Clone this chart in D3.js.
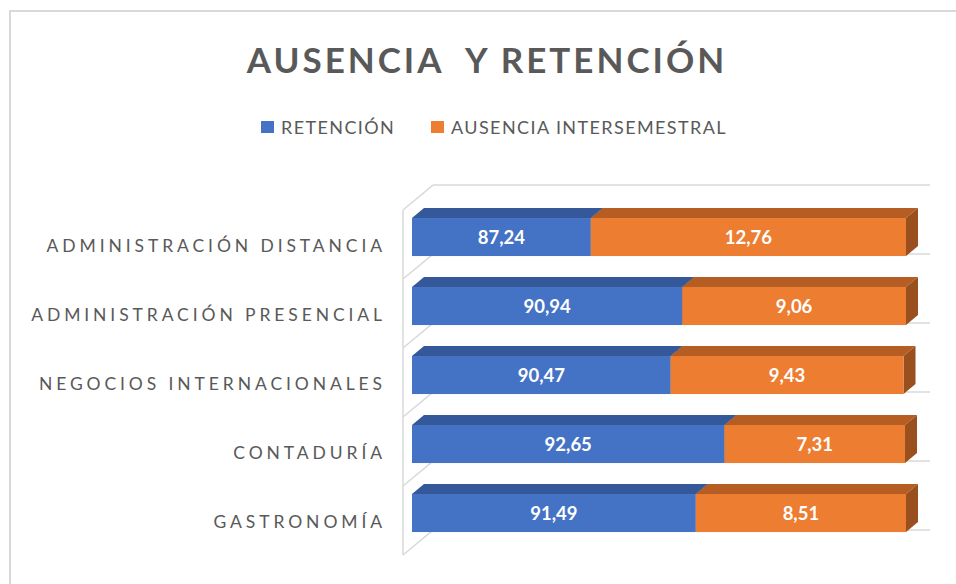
<!DOCTYPE html>
<html>
<head>
<meta charset="utf-8">
<script src="https://cdn.jsdelivr.net/npm/d3@7"></script>
<style>
  body { margin: 0; background: #fff; }
  svg { display: block; }
</style>
</head>
<body>
<div id="chart"></div>
<script>
'use strict'

// data
const categories = ['ADMINISTRACIÓN DISTANCIA', 'ADMINISTRACIÓN PRESENCIAL', 'NEGOCIOS INTERNACIONALES', 'CONTADURÍA', 'GASTRONOMÍA']
const retencion = [87.24, 90.94, 90.47, 92.65, 91.49]
const ausencia = [12.76, 9.06, 9.43, 7.31, 8.51]
const seriesNames = ['RETENCIÓN', 'AUSENCIA INTERSEMESTRAL']
const axisMin = 80, axisMax = 100

const width = 956, height = 584
const font = 'Lato, "Open Sans", sans-serif'
const textColor = '#595959'
const gridColor = '#d9d9d9'

// face colours per series: front, top, side
const colors = [
    {front: '#4472C4', top: '#34589A', side: '#2c4c86'},
    {front: '#ED7D31', top: '#B55D22', side: '#9A4F1E'}
]

// oblique 3d projection, z is depth into the page
const depth = 30, ratio = 0.83
const barZ0 = 9, barZ1 = 21
const P = (x, y, z) => [x + z, y - z * ratio]

const x = d3.scaleLinear().domain([axisMin, axisMax]).range([403, 897])
const y = d3.scaleBand().domain(categories).range([210, 555])
    .paddingInner(0.449).paddingOuter(0.2246)

const svg = d3.select('#chart').append('svg')
    .attr('width', width)
    .attr('height', height)
    .attr('font-family', font)

// chart border
svg.append('rect')
    .attr('x', 10).attr('y', 11)
    .attr('width', width).attr('height', height)
    .attr('fill', 'none')
    .attr('stroke', gridColor)
    .attr('stroke-width', 2)

// title
svg.append('text')
    .attr('x', 487).attr('y', 73)
    .attr('text-anchor', 'middle')
    .attr('font-size', 35)
    .attr('font-weight', 'bold')
    .attr('letter-spacing', 3)
    .attr('fill', textColor)
    .style('white-space', 'pre')
    .text('AUSENCIA  Y RETENCIÓN')

// legend
const legendX = [261, 431]
const legend = svg.append('g')
seriesNames.forEach((name, i) => {
    legend.append('rect')
        .attr('x', legendX[i]).attr('y', 121)
        .attr('width', 13).attr('height', 12)
        .attr('fill', colors[i].front)
    legend.append('text')
        .attr('x', legendX[i] + 20).attr('y', 133.5)
        .attr('font-size', 18)
        .attr('letter-spacing', 1.4)
        .attr('fill', textColor)
        .text(name)
})

// walls and gridlines
const walls = svg.append('g')
    .attr('fill', 'none')
    .attr('stroke', gridColor)
    .attr('stroke-width', 1.5)

const [yTop, yBottom] = y.range()
const bounds = d3.range(categories.length + 1).map(i => yTop + i * y.step())

walls.append('line')
    .attr('x1', x(axisMin)).attr('x2', x(axisMin))
    .attr('y1', yTop).attr('y2', yBottom)

walls.selectAll('.diag')
    .data(bounds)
    .join('line')
    .attr('class', 'diag')
    .attr('x1', x(axisMin)).attr('y1', d => d)
    .attr('x2', P(x(axisMin), 0, depth)[0]).attr('y2', d => P(0, d, depth)[1])

walls.selectAll('.grid')
    .data(bounds)
    .join('line')
    .attr('class', 'grid')
    .attr('x1', P(x(axisMin), 0, depth)[0]).attr('y1', d => P(0, d, depth)[1])
    .attr('x2', P(x(axisMax), 0, depth)[0] + 3).attr('y2', d => P(0, d, depth)[1])

// stacked segments, cumulative from 0 and clipped to the axis range
const rows = categories.map((c, i) => {
    const vals = [retencion[i], ausencia[i]]
    let start = 0
    return vals.map((v, s) => {
        const seg = {cat: c, series: s, value: v, x0: start, x1: start + v}
        start += v
        return seg
    })
})

const poly = pts => 'M' + pts.map(p => p.join(',')).join('L') + 'Z'

const bars = svg.append('g')
rows.forEach(row => {
    const g = bars.append('g')
    row.forEach(seg => {
        const xa = x(Math.max(seg.x0, axisMin))
        const xb = x(Math.min(seg.x1, axisMax))
        const yt = y(seg.cat), yb = yt + y.bandwidth()
        const c = colors[seg.series]

        // top face
        g.append('path')
            .attr('d', poly([P(xa, yt, barZ0), P(xa, yt, barZ1), P(xb, yt, barZ1), P(xb, yt, barZ0)]))
            .attr('fill', c.top)
        // right face
        g.append('path')
            .attr('d', poly([P(xb, yt, barZ0), P(xb, yt, barZ1), P(xb, yb, barZ1), P(xb, yb, barZ0)]))
            .attr('fill', c.side)
        // front face
        const f0 = P(xa, yt, barZ0), f1 = P(xb, yb, barZ0)
        g.append('rect')
            .attr('x', f0[0]).attr('y', f0[1])
            .attr('width', f1[0] - f0[0]).attr('height', f1[1] - f0[1])
            .attr('fill', c.front)

        g.append('text')
            .attr('x', (f0[0] + f1[0]) / 2)
            .attr('y', (f0[1] + f1[1]) / 2)
            .attr('dy', '0.36em')
            .attr('text-anchor', 'middle')
            .attr('font-size', 18.5)
            .attr('font-weight', 'bold')
            .attr('fill', '#fff')
            .text(d3.format('.2f')(seg.value).replace('.', ','))
    })
})

// category labels
svg.append('g')
    .selectAll('text')
    .data(categories)
    .join('text')
    .attr('x', 386)
    .attr('y', d => y(d) + y.bandwidth() / 2 + 1)
    .attr('dy', '0.36em')
    .attr('text-anchor', 'end')
    .attr('font-size', 17.5)
    .attr('letter-spacing', 3.9)
    .attr('fill', textColor)
    .text(d => d)
</script>
</body>
</html>
